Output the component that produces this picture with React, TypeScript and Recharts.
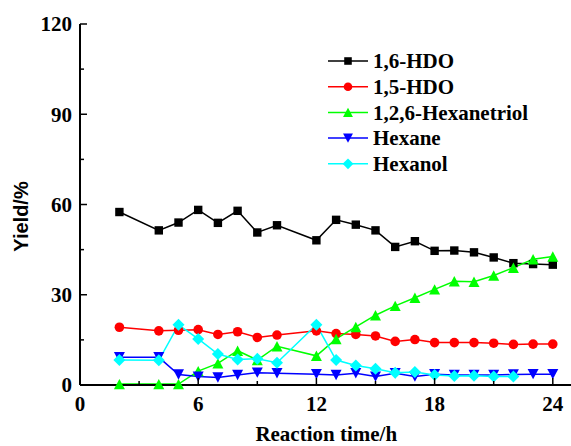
import React from 'react';
import { LineChart, Line, XAxis, YAxis, Legend } from 'recharts';

const times = [2, 4, 5, 6, 7, 8, 9, 10, 12, 13, 14, 15, 16, 17, 18, 19, 20, 21, 22, 23, 24];
const hdo16 = [57.5, 51.4, 54.0, 58.2, 53.9, 57.9, 50.7, 53.1, 48.1, 54.9, 53.3, 51.4, 45.9, 47.8, 44.6, 44.7, 44.1, 42.4, 40.5, 40.2, 40.0];
const hdo15 = [19.2, 18.0, 18.2, 18.4, 16.8, 17.7, 15.8, 16.6, 18.0, 17.1, 16.8, 16.3, 14.5, 15.1, 14.1, 14.1, 14.1, 13.9, 13.5, 13.6, 13.6];
const hexanetriol = [0.3, 0.3, 0.3, 4.6, 7.2, 11.4, 8.3, 12.9, 9.7, 15.3, 19.3, 23.2, 26.3, 29.0, 31.8, 34.5, 34.3, 36.4, 39.0, 41.8, 42.7];
const hexane = [9.2, 9.2, 3.5, 2.8, 2.5, 3.3, 4.1, 3.9, 3.6, 3.3, 3.9, 2.8, 3.9, 2.8, 3.6, 3.3, 3.3, 3.3, 3.5, 3.6, 3.6];
const hexanol = [8.3, 8.2, 20.0, 15.3, 10.3, 8.5, 8.7, 7.4, 20.0, 8.3, 6.5, 5.4, 4.1, 4.3, 3.3, 3.0, 3.1, 2.8, 2.8, null, null];

const xTicks = [0, 3, 6, 9, 12, 15, 18, 21, 24];
const xLabelTicks = [0, 6, 12, 18, 24];
const yTicks = [0, 15, 30, 45, 60, 75, 90, 105, 120];
const yLabelTicks = [0, 30, 60, 90, 120];

const seriesNames = ['1,6-HDO', '1,5-HDO', '1,2,6-Hexanetriol', 'Hexane', 'Hexanol'];
const seriesValues = [hdo16, hdo15, hexanetriol, hexane, hexanol];
const seriesKeys = ['hdo16', 'hdo15', 'triol', 'hexane', 'hexanol'];
const seriesColors = ['#000000', '#ff0000', '#00ff00', '#0000ff', '#00ffff'];
const seriesShapes = ['square', 'circle', 'triangleUp', 'triangleDown', 'diamond'];

const data = times.map((t, i) => {
  const row: any = { t };
  seriesKeys.forEach((k, j) => {
    row[k] = seriesValues[j][i];
  });
  return row;
});

const SERIF = '"Liberation Serif", "Times New Roman", serif';
const SANS = '"Liberation Sans", Arial, sans-serif';
const FS = 21;

function Marker({ shape, cx, cy, color, scale = 1 }: any) {
  if (cx == null || cy == null || isNaN(cx) || isNaN(cy)) return null;
  switch (shape) {
    case 'square': {
      const s = 4.2 * scale;
      return <rect x={cx - s} y={cy - s} width={2 * s} height={2 * s} fill={color} />;
    }
    case 'circle':
      return <circle cx={cx} cy={cy} r={4.8 * scale} fill={color} />;
    case 'triangleUp': {
      const w = 5.5 * scale, h = 5.2 * scale;
      return <polygon points={`${cx - w},${cy + h} ${cx + w},${cy + h} ${cx},${cy - h}`} fill={color} />;
    }
    case 'triangleDown': {
      const w = 5.5 * scale, h = 5.2 * scale;
      return <polygon points={`${cx - w},${cy - h} ${cx + w},${cy - h} ${cx},${cy + h}`} fill={color} />;
    }
    case 'diamond': {
      const d = 6 * scale;
      return <polygon points={`${cx},${cy - d} ${cx + d},${cy} ${cx},${cy + d} ${cx - d},${cy}`} fill={color} />;
    }
    default:
      return null;
  }
}

function YTick(props: any) {
  const { x, y, payload } = props;
  const major = yLabelTicks.includes(payload.value);
  return (
    <g>
      <line x1={x} y1={y} x2={x + (major ? 7 : 4)} y2={y} stroke="#000" strokeWidth={1.5} />
      {major && (
        <text x={x - 8} y={y} dy="0.35em" textAnchor="end" fontFamily={SERIF} fontWeight="bold" fontSize={FS} fill="#000">
          {payload.value}
        </text>
      )}
    </g>
  );
}

function XTick(props: any) {
  const { x, y, payload } = props;
  const major = xLabelTicks.includes(payload.value);
  return (
    <g>
      <line x1={x} y1={y} x2={x} y2={y - (major ? 7 : 4)} stroke="#000" strokeWidth={1.5} />
      {major && (
        <text x={x} y={y + 26} textAnchor="middle" fontFamily={SERIF} fontWeight="bold" fontSize={FS} fill="#000">
          {payload.value}
        </text>
      )}
    </g>
  );
}

function TopTick(props: any) {
  const { x, y, payload } = props;
  const major = xLabelTicks.includes(payload.value);
  return <line x1={x} y1={y} x2={x} y2={y + (major ? 7 : 4)} stroke="#000" strokeWidth={1.5} />;
}

function LegendBox() {
  const rowH = 25.7;
  return (
    <svg width={220} height={5 * rowH + 4} style={{ display: 'block', overflow: 'visible' }}>
      {seriesNames.map((name, i) => {
        const cy = 13 + i * rowH;
        return (
          <g key={name}>
            <line x1={0} y1={cy} x2={40} y2={cy} stroke={seriesColors[i]} strokeWidth={1.5} />
            <Marker shape={seriesShapes[i]} cx={20} cy={cy} color={seriesColors[i]} scale={0.9} />
            <text x={45} y={cy} dy="0.35em" fontFamily={SERIF} fontWeight="bold" fontSize={FS} fill="#000">
              {name}
            </text>
          </g>
        );
      })}
    </svg>
  );
}

function YLabel(props: any) {
  const { viewBox } = props;
  const cx = 21;
  const cy = viewBox.y + viewBox.height / 2 + 12;
  return (
    <text x={cx} y={cy} transform={`rotate(-90 ${cx} ${cy})`} textAnchor="middle" dy="0.35em" fontFamily={SANS} fontWeight="bold" fontSize={20} fill="#000">
      Yield/%
    </text>
  );
}

function XLabel(props: any) {
  const { viewBox } = props;
  const cx = viewBox.x + viewBox.width / 2;
  return (
    <text x={cx} y={441} textAnchor="middle" fontFamily={SERIF} fontWeight="bold" fontSize={FS} fill="#000">
      Reaction time/h
    </text>
  );
}

export default function App() {
  return (
    <div style={{ position: 'absolute', left: 0, top: 0, width: 571, height: 446, overflow: 'hidden', background: '#fff' }}>
      <LineChart width={580} height={446} data={data} margin={{ top: 24, right: 7.5, bottom: 0, left: 0 }}>
        <XAxis
          xAxisId="bottom"
          dataKey="t"
          type="number"
          domain={[0, 25]}
          ticks={xTicks}
          allowDataOverflow
          height={61}
          axisLine={{ stroke: '#000', strokeWidth: 2 }}
          tickLine={false}
          tickSize={0}
          tickMargin={0}
          tick={<XTick />}
          interval={0}
          label={<XLabel />}
        />
        <XAxis
          xAxisId="top"
          orientation="top"
          dataKey="t"
          type="number"
          domain={[0, 25]}
          ticks={xTicks}
          allowDataOverflow
          height={0}
          axisLine={{ stroke: '#000', strokeWidth: 2 }}
          tickLine={false}
          tickSize={0}
          tickMargin={0}
          tick={<TopTick />}
          interval={0}
        />
        <YAxis
          type="number"
          domain={[0, 120]}
          ticks={yTicks}
          width={80}
          axisLine={{ stroke: '#000', strokeWidth: 2 }}
          tickLine={false}
          tickSize={0}
          tickMargin={0}
          tick={<YTick />}
          interval={0}
          label={<YLabel />}
        />
        <Legend
          layout="vertical"
          align="center"
          verticalAlign="middle"
          content={() => <LegendBox />}
          wrapperStyle={{ position: 'absolute', left: 328, top: 48, width: 230, height: 140 }}
        />
        {seriesKeys.map((k, i) => (
          <Line
            key={k}
            xAxisId="bottom"
            dataKey={k}
            name={seriesNames[i]}
            stroke={seriesColors[i]}
            strokeWidth={1.5}
            isAnimationActive={false}
            connectNulls={false}
            dot={(p: any) => (
              <g key={`${k}-${p.index}`}>
                <Marker shape={seriesShapes[i]} cx={p.cx} cy={p.cy} color={seriesColors[i]} />
              </g>
            )}
            activeDot={false}
          />
        ))}
      </LineChart>
    </div>
  );
}
